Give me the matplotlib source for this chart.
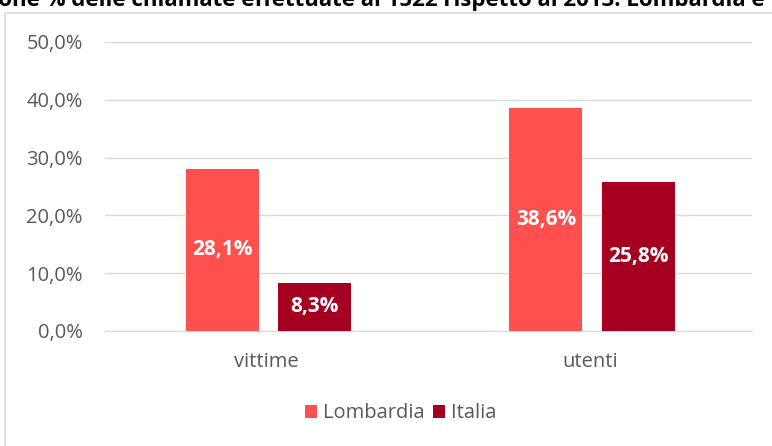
import matplotlib
matplotlib.use("Agg")
import matplotlib.pyplot as plt
import numpy as np
from matplotlib.patches import Rectangle

categories = ["vittime", "utenti"]
lombardia = [0.281, 0.386]
italia = [0.083, 0.258]
series_names = ["Lombardia", "Italia"]
title = "Variazione % delle chiamate effettuate al 1522 rispetto al 2013: Lombardia e Italia"

plt.rcParams['font.family'] = ['Open Sans', 'DejaVu Sans']

fig = plt.figure(figsize=(7.72, 4.46), dpi=100)
ax = fig.add_axes([0.136, 0.258, 0.838, 0.648])

# chart border
fig.patches.append(Rectangle((5 / 772, -0.1), 1.2, 1 - 13 / 446 + 0.1, transform=fig.transFigure,
                             fill=False, edgecolor="#d9d9d9", linewidth=1.2))

# title is cut off at the top, as in the original
fig.text(-0.1, 1 - 6 / 446, title, fontsize=16, fontweight="bold", ha="left", va="baseline")

x = np.arange(len(categories))
w = 0.226
b1 = ax.bar(x - 0.137, lombardia, w, color="#FF5050", label=series_names[0], zorder=3)
b2 = ax.bar(x + 0.148, italia, w, color="#A50021", label=series_names[1], zorder=3)

for bars, vals in [(b1, lombardia), (b2, italia)]:
    for r, v in zip(bars, vals):
        ax.text(r.get_x() + r.get_width() / 2, v / 2, f"{v*100:.1f}%".replace(".", ","),
                ha="center", va="center", color="white", fontsize=15, fontweight="bold", zorder=4)

ax.set_xlim(-0.5, 1.5)
ax.set_ylim(0, 0.5)
ax.set_yticks(np.arange(0, 0.51, 0.1))
ax.set_yticklabels([f"{t*100:.1f}%".replace(".", ",") for t in np.arange(0, 0.51, 0.1)])
ax.set_xticks(x)
ax.set_xticklabels(categories)
ax.grid(axis="y", color="#d9d9d9", linewidth=1, zorder=0)
for s in ["top", "right", "left"]:
    ax.spines[s].set_visible(False)
ax.spines["bottom"].set_color("#d9d9d9")
ax.tick_params(axis="both", length=0, labelsize=14.5, colors="#595959")
ax.tick_params(axis="y", pad=16)
ax.tick_params(axis="x", pad=15)

ax.legend(loc="center", bbox_to_anchor=(0.457, -0.285), ncol=2, frameon=False, fontsize=14.5,
          handlelength=0.6, handleheight=0.6, handletextpad=0.3, columnspacing=0.4,
          labelcolor="#595959")

fig.savefig("out.png", dpi=100)
